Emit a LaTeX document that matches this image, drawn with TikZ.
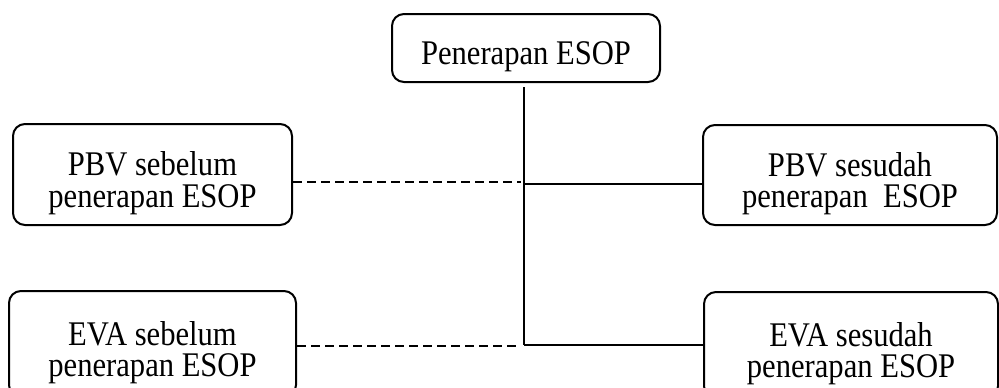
\documentclass[tikz,border=0pt]{standalone}
\usepackage{fontspec}
\setmainfont{Liberation Serif}
\usepackage{graphicx}
% lowered text that keeps its natural dimensions for node centring
\newcommand{\boxtext}[1]{\raisebox{-4.75pt}[\height][\depth]{\scalebox{1}[1.13]{\begin{tabular}{@{}c@{}}#1\end{tabular}}}}
\tikzset{
  box/.style={draw, line width=1pt, rounded corners=6pt, inner sep=0pt,
    align=center, font=\fontsize{15.3}{13.3}\selectfont},
  link/.style={line width=0.6pt},
  dlink/.style={line width=1pt, dash pattern=on 4.5pt off 2.5pt},
}
\begin{document}
\begin{tikzpicture}[x=0.5pt, y=-0.5pt]
  \useasboundingbox (0,0) rectangle (999,387);
  \clip (0,0) rectangle (999,387);

  % boxes
  \node[box, minimum width=134pt, minimum height=34pt] (top) at (526,48)
    {\boxtext{Penerapan ESOP}};
  \node[box, minimum width=139.5pt, minimum height=50.5pt] (pbvL) at (152.5,174.5)
    {\boxtext{PBV sebelum\\penerapan ESOP}};
  \node[box, minimum width=147pt, minimum height=50pt] (pbvR) at (850,175)
    {\boxtext{PBV sesudah\\penerapan\ \ ESOP}};
  \node[box, minimum width=143.5pt, minimum height=53pt] (evaL) at (152.5,344)
    {\boxtext{EVA sebelum\\penerapan ESOP}};
  \node[box, minimum width=147pt, minimum height=53pt] (evaR) at (851,345)
    {\boxtext{EVA sesudah\\penerapan ESOP}};

  % junction points on the central spine
  \coordinate (vt) at (524,87);
  \coordinate (j1) at (524,184);
  \coordinate (j2) at (524,345);
  \coordinate (d1) at (521,182);
  \coordinate (d2) at (521,346);

  % spine and branches
  \draw[link] (vt) -- (j2);
  \draw[link] (j1) -- (j1 -| pbvR.west);
  \draw[link] (j2) -- (j2 -| evaR.west);
  \draw[dlink] (d1 -| pbvL.east) -- (d1);
  \draw[dlink] (d2 -| evaL.east) -- (d2);
\end{tikzpicture}
\end{document}
